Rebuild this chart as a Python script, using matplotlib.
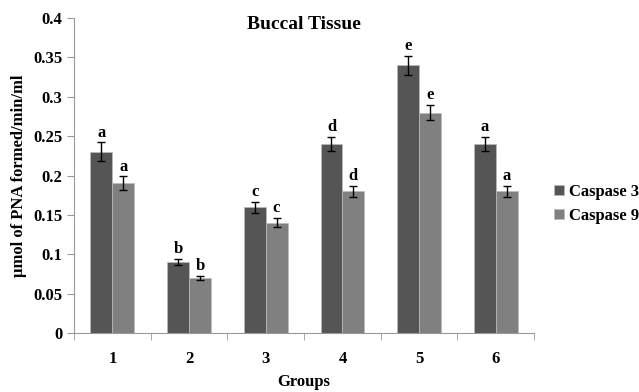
import numpy as np
import matplotlib.pyplot as plt

groups = ['1', '2', '3', '4', '5', '6']
casp3 = [0.23, 0.09, 0.16, 0.24, 0.34, 0.24]
casp9 = [0.19, 0.07, 0.14, 0.18, 0.28, 0.18]
casp3_err = [0.012, 0.004, 0.007, 0.009, 0.012, 0.009]
casp9_err = [0.009, 0.003, 0.006, 0.007, 0.010, 0.007]
casp3_sig = ['a', 'b', 'c', 'd', 'e', 'a']
casp9_sig = ['a', 'b', 'c', 'd', 'e', 'a']

plt.rcParams['font.family'] = ['Liberation Serif', 'DejaVu Serif']
plt.rcParams['font.weight'] = 'bold'

fig = plt.figure(figsize=(6.39, 3.92), dpi=100)
ax = fig.add_axes([0.1158, 0.1505, 0.72, 0.8035])

x = np.arange(len(groups))
w = 0.285
ekw = dict(ecolor='black', capsize=3, elinewidth=1, capthick=1)
ax.bar(x - w / 2, casp3, w, yerr=casp3_err, color='#555555',
       edgecolor='#bbbbbb', linewidth=0.5, error_kw=ekw, label='Caspase 3')
ax.bar(x + w / 2, casp9, w, yerr=casp9_err, color='#808080',
       edgecolor='#bbbbbb', linewidth=0.5, error_kw=ekw, label='Caspase 9')

# significance letters above the error bars
for xi, v, e, s in zip(x - w / 2, casp3, casp3_err, casp3_sig):
    ax.text(xi, v + e + 0.002, s, ha='center', va='bottom', fontsize=12, fontweight='bold')
for xi, v, e, s in zip(x + w / 2, casp9, casp9_err, casp9_sig):
    ax.text(xi, v + e + 0.002, s, ha='center', va='bottom', fontsize=12, fontweight='bold')

ax.set_xlim(-0.5, len(groups) - 0.5)
ax.set_ylim(0, 0.4)
ax.set_yticks(np.arange(0, 0.41, 0.05))
ax.set_yticklabels(['0', '0.05', '0.1', '0.15', '0.2', '0.25', '0.3', '0.35', '0.4'])
ax.set_xticks(x)
ax.set_xticklabels(groups)
ax.set_xticks(np.arange(-0.5, len(groups), 1), minor=True)
ax.tick_params(axis='x', which='major', length=0, pad=13, labelsize=12)
ax.tick_params(axis='x', which='minor', length=5, color='#999999')
ax.tick_params(axis='y', length=5, color='#999999', labelsize=12)

for side in ['top', 'right']:
    ax.spines[side].set_visible(False)
for side in ['left', 'bottom']:
    ax.spines[side].set_color('#999999')

ax.set_title('Buccal Tissue', fontsize=14, fontweight='bold', pad=0, y=0.965)
ax.set_xlabel('Groups', fontsize=12, fontweight='bold', labelpad=5)
ax.set_ylabel('µmol of PNA formed/min/ml', fontsize=12, fontweight='bold', labelpad=4)

ax.legend(loc='center left', bbox_to_anchor=(1.01, 0.41), frameon=False,
          fontsize=12, handlelength=0.6, handleheight=0.6, handletextpad=0.3,
          labelspacing=0.5)

fig.savefig('out.png', dpi=100)
